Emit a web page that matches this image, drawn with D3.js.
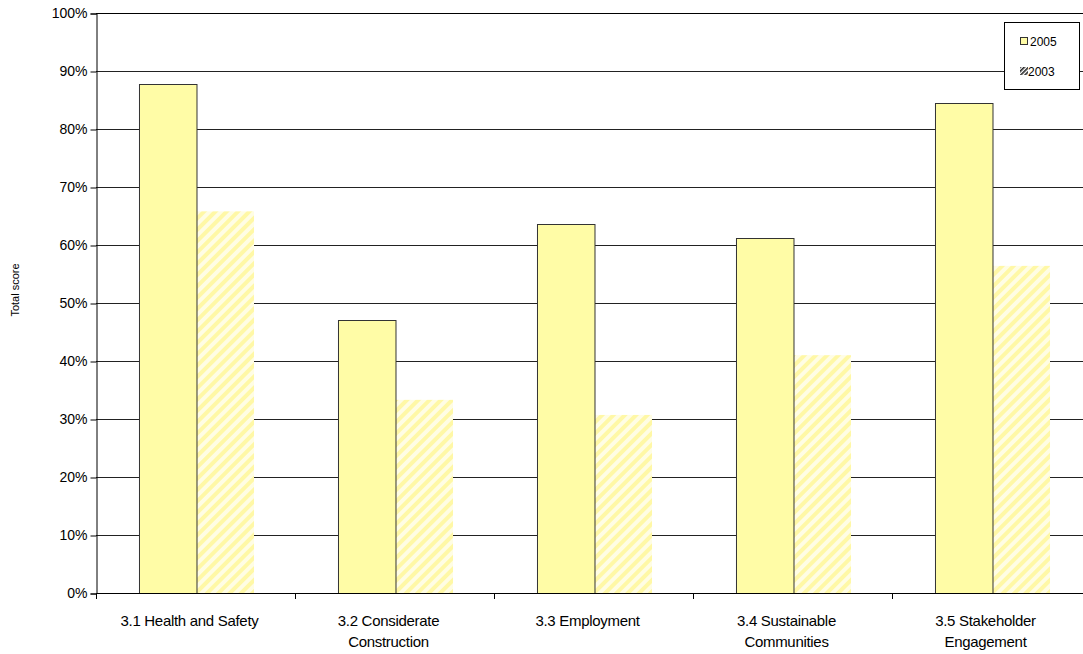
<!DOCTYPE html>
<html>
<head>
<meta charset="utf-8">
<script src="https://cdn.jsdelivr.net/npm/d3@7/dist/d3.min.js"></script>
<style>
  html, body { margin: 0; padding: 0; background: #fff; overflow: hidden; }
  svg { display: block; font-family: "Liberation Sans", Arial, sans-serif; }
</style>
</head>
<body>
<svg id="chart" width="1083" height="654"></svg>
<script>
// Scores per section, as a share of the maximum
const categories = [
  ["3.1 Health and Safety"],
  ["3.2 Considerate", "Construction"],
  ["3.3 Employment"],
  ["3.4 Sustainable", "Communities"],
  ["3.5 Stakeholder", "Engagement"]
];
const seriesNames = ["2005", "2003"];
const values2005 = [0.878, 0.471, 0.636, 0.612, 0.845];
const values2003 = [0.658, 0.333, 0.307, 0.410, 0.564];
const yTicks = [0, 0.1, 0.2, 0.3, 0.4, 0.5, 0.6, 0.7, 0.8, 0.9, 1.0];

const svg = d3.select("#chart");
// The plot area runs slightly past the right edge of the canvas
const plotLeft = 96, plotRight = 1091, plotTop = 13, plotBottom = 593;

const defs = svg.append("defs");
const hatch = defs.append("pattern")
  .attr("id", "hatch").attr("patternUnits", "userSpaceOnUse")
  .attr("width", 8).attr("height", 8)
  .attr("patternTransform", "rotate(45)");
hatch.append("rect").attr("width", 8).attr("height", 8).attr("fill", "#fffde4");
hatch.append("rect").attr("width", 4).attr("height", 8).attr("fill", "#fff8a6");

const hatchDark = defs.append("pattern")
  .attr("id", "hatchDark").attr("patternUnits", "userSpaceOnUse")
  .attr("width", 3).attr("height", 3)
  .attr("patternTransform", "rotate(45)");
hatchDark.append("rect").attr("width", 3).attr("height", 3).attr("fill", "#fff");
hatchDark.append("rect").attr("width", 1.6).attr("height", 3).attr("fill", "#222");

const keys = categories.map((c, i) => i);
const x0 = d3.scaleBand().domain(keys).range([plotLeft, plotRight]).padding(0);
const step = x0.step();
const x1 = d3.scaleBand().domain(seriesNames).range([step * 0.216, step * 0.794]).padding(0);
const y = d3.scaleLinear().domain([0, 1]).range([plotBottom, plotTop]);

// Horizontal gridlines
svg.append("g").selectAll("line").data(yTicks.filter(t => t > 0)).join("line")
  .attr("x1", plotLeft).attr("x2", plotRight)
  .attr("y1", d => Math.round(y(d)) + 0.5).attr("y2", d => Math.round(y(d)) + 0.5)
  .attr("stroke", "#222").attr("stroke-width", 1);

// Bars
const rows = keys.map(i => ({ i, v: [values2005[i], values2003[i]] }));
const groups = svg.append("g").selectAll("g").data(rows).join("g")
  .attr("transform", d => `translate(${x0(d.i)},0)`);

groups.append("rect")
  .attr("x", x1("2003")).attr("width", x1.bandwidth())
  .attr("y", d => y(d.v[1])).attr("height", d => plotBottom - y(d.v[1]))
  .attr("fill", "url(#hatch)");

groups.append("rect")
  .attr("x", x1("2005") + 0.5).attr("width", x1.bandwidth())
  .attr("y", d => Math.round(y(d.v[0])) + 0.5).attr("height", d => plotBottom - Math.round(y(d.v[0])))
  .attr("fill", "#fffca6").attr("stroke", "#333").attr("stroke-width", 1);

// Y axis
const yAxis = d3.axisLeft(y).tickValues(yTicks).tickFormat(d3.format(".0%")).tickSize(6).tickPadding(3);
const gy = svg.append("g").attr("transform", `translate(${plotLeft + 0.5},0.5)`).call(yAxis);
gy.select(".domain").attr("stroke", "#000");
gy.selectAll(".tick line").attr("stroke", "#000");
gy.selectAll("text").attr("font-size", 14).attr("fill", "#000")
  .attr("font-family", "Liberation Sans, Arial, sans-serif");

// X axis: baseline with ticks at category boundaries
const gx = svg.append("g");
gx.append("line").attr("x1", plotLeft).attr("x2", plotRight)
  .attr("y1", plotBottom + 0.5).attr("y2", plotBottom + 0.5).attr("stroke", "#000");
gx.selectAll("line.tk").data(d3.range(keys.length + 1)).join("line").attr("class", "tk")
  .attr("x1", d => Math.round(plotLeft + d * step) + 0.5).attr("x2", d => Math.round(plotLeft + d * step) + 0.5)
  .attr("y1", plotBottom).attr("y2", plotBottom + 6).attr("stroke", "#000");
const labels = gx.selectAll("text").data(keys).join("text")
  .attr("x", d => x0(d) + step / 2 - 6).attr("y", 626)
  .attr("text-anchor", "middle").attr("font-size", 15).attr("fill", "#000")
  .attr("letter-spacing", -0.3);
labels.selectAll("tspan").data(d => categories[d]).join("tspan")
  .attr("x", function() { return d3.select(this.parentNode).attr("x"); })
  .attr("dy", (d, i) => i === 0 ? 0 : 21)
  .text(d => d);

// Top border
svg.append("line").attr("x1", plotLeft).attr("x2", plotRight).attr("y1", plotTop + 0.5).attr("y2", plotTop + 0.5).attr("stroke", "#000");

// Y axis title
svg.append("text").attr("transform", "translate(19,290) rotate(-90)")
  .attr("text-anchor", "middle").attr("font-size", 11).text("Total score");

// Legend
const lg = svg.append("g");
lg.append("rect").attr("x", 1004.5).attr("y", 22.5).attr("width", 75).attr("height", 67)
  .attr("fill", "#fff").attr("stroke", "#000");
lg.append("rect").attr("x", 1020.5).attr("y", 37.5).attr("width", 7).attr("height", 7)
  .attr("fill", "#fffca6").attr("stroke", "#333");
lg.append("text").attr("x", 1030).attr("y", 46).attr("font-size", 12).text(seriesNames[0]);
lg.append("rect").attr("x", 1020).attr("y", 67).attr("width", 8).attr("height", 8)
  .attr("fill", "url(#hatchDark)");
lg.append("text").attr("x", 1028).attr("y", 76).attr("font-size", 12).text(seriesNames[1]);
</script>
</body>
</html>
